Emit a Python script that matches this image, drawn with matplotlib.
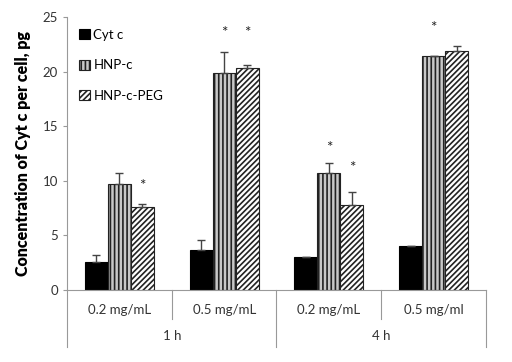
import matplotlib
matplotlib.use('Agg')
import matplotlib.pyplot as plt
import numpy as np

plt.rcParams['font.family'] = ['Lato', 'DejaVu Sans']
plt.rcParams['hatch.linewidth'] = 1.2

# data
conc = ['0.2 mg/mL', '0.5 mg/mL', '0.2 mg/mL', '0.5 mg/ml']
times = ['1 h', '4 h']
series = ['Cyt c', 'HNP-c', 'HNP-c-PEG']
cytc = [2.6, 3.7, 3.0, 4.0]
cytc_err = [0.6, 0.9, 0.05, 0.05]
hnpc = [9.7, 19.9, 10.7, 21.4]
hnpc_err = [1.0, 1.9, 0.9, 0.05]
peg = [7.6, 20.3, 7.8, 21.9]
peg_err = [0.3, 0.3, 1.2, 0.4]
# stars: (category, series index, height)
stars = [(0, 2, 9.5), (1, 1, 23.5), (1, 2, 23.5), (2, 1, 13.0), (2, 2, 11.2), (3, 1, 24.0)]

fig = plt.figure(figsize=(5.12, 3.62), dpi=100)
ax = fig.add_axes([0.131, 0.199, 0.818, 0.754])

x = np.arange(len(conc))
w = 0.22
vals = [cytc, hnpc, peg]
errs = [cytc_err, hnpc_err, peg_err]
styles = [dict(color='black', edgecolor='black'),
          dict(color='#c8c8c8', edgecolor='#222222', hatch='||||'),
          dict(color='white', edgecolor='#222222', hatch='//////')]
for i in range(3):
    ax.bar(x + (i - 1) * w, vals[i], w,
           yerr=[np.zeros(len(errs[i])), errs[i]], label=series[i],
           linewidth=0.8, error_kw=dict(ecolor='#444444', elinewidth=1, capsize=3,
                                        capthick=1),
           **styles[i])

for c, s, h in stars:
    ax.text(x[c] + (s - 1) * w, h, '*', ha='center', va='center', fontsize=11,
            color='#222222')

ax.set_xlim(-0.5, 3.5)
ax.set_ylim(0, 25)
ax.set_yticks([0, 5, 10, 15, 20, 25])
ax.tick_params(axis='y', labelsize=9.5, colors='#333333', length=3, color='#999999')
ax.set_xticks([])
for sp in ['top', 'right']:
    ax.spines[sp].set_visible(False)
ax.spines['left'].set_color('#999999')
ax.spines['bottom'].set_color('#999999')
ax.set_ylabel('Concentration of Cyt c per cell, pg', fontsize=11.5,
              fontweight='heavy', labelpad=8)

# two-level category axis
trans = ax.get_xaxis_transform()
for i, lab in enumerate(conc):
    ax.text(x[i], -0.075, lab, transform=trans, ha='center', va='center',
            fontsize=9.5, color='#333333')
for j, lab in enumerate(times):
    ax.text(0.5 + 2 * j, -0.17, lab, transform=trans, ha='center', va='center',
            fontsize=9.5, color='#333333')
for b in [0.5, 2.5]:
    ax.plot([b, b], [0, -0.105], transform=trans, color='#999999', lw=0.8,
            clip_on=False)
for b in [-0.5, 1.5, 3.5]:
    ax.plot([b, b], [0, -0.21], transform=trans, color='#999999', lw=0.8,
            clip_on=False)

ax.legend(loc='upper left', bbox_to_anchor=(0.0, 1.0), frameon=False, fontsize=9.5,
          handlelength=0.8, handleheight=0.8, handletextpad=0.3, labelspacing=1.4)

fig.savefig('out.png', dpi=100)
